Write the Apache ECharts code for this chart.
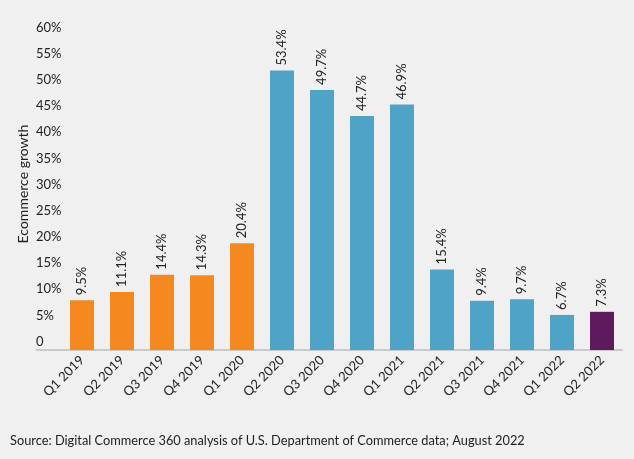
<!DOCTYPE html>
<html>
<head>
<meta charset="UTF-8">
<title>Ecommerce growth</title>
<script src="https://cdn.jsdelivr.net/npm/echarts@6/dist/echarts.min.js"></script>
<style>
  html, body { margin: 0; padding: 0; background: #f0f0f0; }
  #main { width: 634px; height: 459px; }
</style>
</head>
<body>
<div id="main"></div>
<script>
// quarters and growth (%)
var quarters = ['Q1 2019', 'Q2 2019', 'Q3 2019', 'Q4 2019', 'Q1 2020', 'Q2 2020', 'Q3 2020',
                'Q4 2020', 'Q1 2021', 'Q2 2021', 'Q3 2021', 'Q4 2021', 'Q1 2022', 'Q2 2022'];
var growth = [9.5, 11.1, 14.4, 14.3, 20.4, 53.4, 49.7, 44.7, 46.9, 15.4, 9.4, 9.7, 6.7, 7.3];
// which colour group each bar belongs to
var groups = ['pre', 'pre', 'pre', 'pre', 'pre', 'covid', 'covid', 'covid', 'covid',
              'covid', 'covid', 'covid', 'covid', 'now'];
var colors = { pre: '#f5891f', covid: '#4fa3c7', now: '#5f1a5e' };

var chart = echarts.init(document.getElementById('main'));
var font = 'Lato, "Open Sans", sans-serif';

chart.setOption({
    backgroundColor: '#f0f0f0',
    textStyle: { fontFamily: font },
    grid: { left: 62, right: 12, top: 36, bottom: 109 },
    xAxis: {
        type: 'category',
        data: quarters,
        axisLine: { lineStyle: { color: '#bdbdbd', width: 1.5 } },
        axisTick: { show: false },
        axisLabel: { rotate: 45, margin: 8, fontSize: 13, color: '#222', fontFamily: font, interval: 0 }
    },
    yAxis: {
        type: 'value',
        min: 0,
        max: 60,
        interval: 5,
        name: 'Ecommerce growth',
        nameLocation: 'middle',
        nameGap: 32,
        nameMoveOverlap: false,
        nameTextStyle: { fontSize: 14, color: '#222', fontFamily: font, padding: [0, 0, 0, 18] },
        splitLine: { show: false },
        axisLine: { show: false },
        axisTick: { show: false },
        axisLabel: {
            align: 'left', margin: 26, fontSize: 13, color: '#222', fontFamily: font,
            verticalAlign: 'bottom', padding: [0, 0, 2, 0],
            formatter: function (v) { return v === 0 ? '0' : v + '%'; }
        }
    },
    graphic: [{
        type: 'line',
        shape: { x1: 36, y1: 350, x2: 62, y2: 350 },
        style: { stroke: '#bdbdbd', lineWidth: 1.5 }
    }, {
        type: 'text',
        left: 10,
        top: 434,
        style: { text: 'Source: Digital Commerce 360 analysis of U.S. Department of Commerce data; August 2022',
                 font: '12.8px ' + font, fill: '#222' }
    }],
    series: [{
        type: 'bar',
        barWidth: 24,
        data: growth.map(function (v, i) {
            return { value: v, itemStyle: { color: colors[groups[i]] } };
        }),
        label: {
            show: true,
            position: 'top',
            distance: 5,
            rotate: 90,
            align: 'left',
            verticalAlign: 'middle',
            fontSize: 13,
            color: '#222',
            fontFamily: font,
            formatter: function (p) { return p.value.toFixed(1) + '%'; }
        }
    }]
});
</script>
</body>
</html>
